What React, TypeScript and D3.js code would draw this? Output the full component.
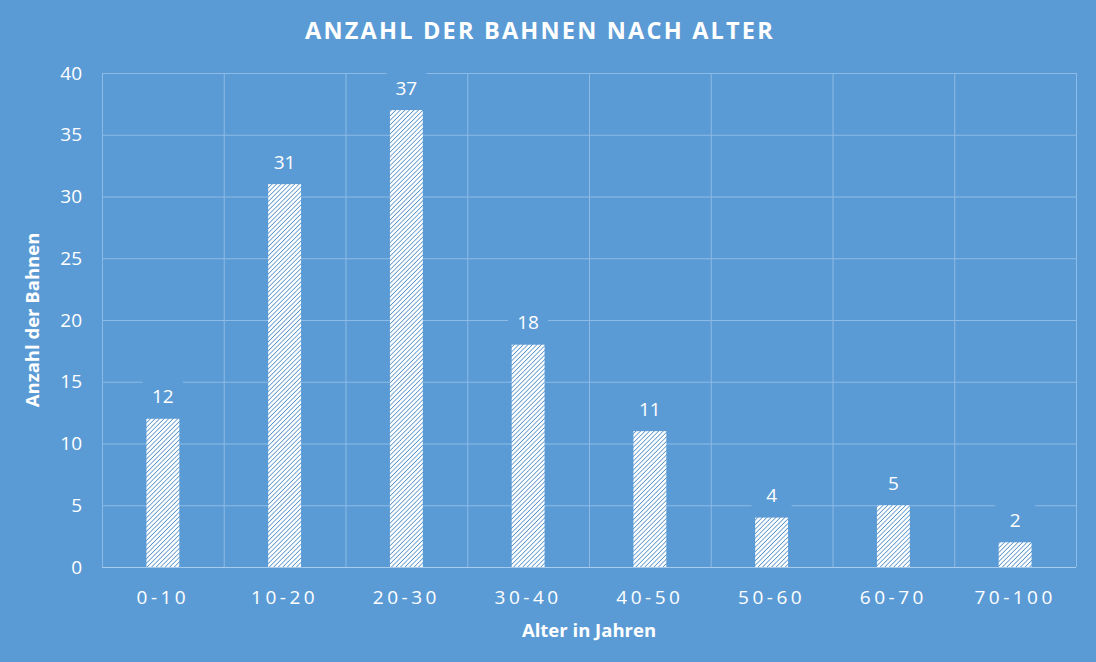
import * as d3 from "d3";

const categories = ["0-10", "10-20", "20-30", "30-40", "40-50", "50-60", "60-70", "70-100"];
const counts = [12, 31, 37, 18, 11, 4, 5, 2];
const yTicks = [0, 5, 10, 15, 20, 25, 30, 35, 40];

const WIDTH = 1096;
const HEIGHT = 662;
const MARGIN = { top: 73, right: 20, bottom: 95, left: 102 };
const BG = "#5B9BD5";
const GRID = "#8DBBE5";
const FONT = "'Open Sans', 'DejaVu Sans', sans-serif";

export default function App() {
  const boundsWidth = WIDTH - MARGIN.left - MARGIN.right;
  const boundsHeight = HEIGHT - MARGIN.top - MARGIN.bottom;

  const xScale = d3.scaleBand().domain(categories).range([0, boundsWidth]).paddingInner(0).paddingOuter(0);
  const yScale = d3.scaleLinear().domain([0, 40]).range([boundsHeight, 0]);
  const barWidth = xScale.bandwidth() * 0.27;

  return (
    <svg width={WIDTH} height={HEIGHT} style={{ position: "absolute", left: 0, top: 0 }}>
      <defs>
        <pattern id="hatch" width={3.2} height={3.2} patternUnits="userSpaceOnUse" patternTransform="rotate(45)">
          <rect width={3.2} height={3.2} fill="white" />
          <line x1={0} y1={0} x2={0} y2={3.2} stroke="#4A8BC8" strokeWidth={1.5} />
        </pattern>
      </defs>
      <rect width={WIDTH} height={HEIGHT} fill={BG} />
      <text
        x={540}
        y={39}
        textAnchor="middle"
        fill="white"
        fontFamily={FONT}
        fontWeight="bold"
        fontSize={23.5}
        letterSpacing={2.2}
      >
        ANZAHL DER BAHNEN NACH ALTER
      </text>
      <g transform={`translate(${MARGIN.left},${MARGIN.top})`}>
        {/* horizontal grid */}
        {yTicks.map((t) => (
          <line
            key={"h" + t}
            x1={0}
            x2={boundsWidth}
            y1={yScale(t) + 0.5}
            y2={yScale(t) + 0.5}
            stroke={t === 0 ? "#A9CBEB" : GRID}
            strokeWidth={1}
          />
        ))}
        {/* vertical grid */}
        {[...categories.map((c) => xScale(c) as number), boundsWidth].map((x, i) => (
          <line key={"v" + i} x1={x + 0.5} x2={x + 0.5} y1={0} y2={boundsHeight} stroke={GRID} strokeWidth={1} />
        ))}
        {/* y tick labels */}
        {yTicks.map((t) => (
          <text
            key={"yt" + t}
            x={-20}
            y={yScale(t)}
            dy="0.35em"
            textAnchor="end"
            fill="white"
            fontFamily={FONT}
            fontSize={19}
          >
            {t}
          </text>
        ))}
        {/* bars */}
        {counts.map((v, i) => {
          const cx = (xScale(categories[i]) as number) + xScale.bandwidth() / 2;
          return (
            <g key={"b" + i}>
              <rect
                x={cx - barWidth / 2}
                y={yScale(v)}
                width={barWidth}
                height={boundsHeight - yScale(v)}
                fill="url(#hatch)"
              />
              <rect x={cx - 20} y={yScale(v) - 40} width={40} height={30} fill={BG} />
              <text
                x={cx}
                y={yScale(v) - 22}
                dy="0.35em"
                textAnchor="middle"
                fill="white"
                fontFamily={FONT}
                fontSize={19}
              >
                {v}
              </text>
            </g>
          );
        })}
        {/* x tick labels */}
        {categories.map((c) => (
          <text
            key={"xt" + c}
            x={(xScale(c) as number) + xScale.bandwidth() / 2}
            y={boundsHeight + 30}
            dy="0.35em"
            textAnchor="middle"
            fill="white"
            fontFamily={FONT}
            fontSize={19}
            letterSpacing={3.5}
          >
            {c}
          </text>
        ))}
        <text
          x={boundsWidth / 2 + 0}
          y={boundsHeight + 64}
          dy="0.35em"
          textAnchor="middle"
          fill="white"
          fontFamily={FONT}
          fontWeight="bold"
          fontSize={18.5}
        >
          Alter in Jahren
        </text>
      </g>
      <text
        transform={`translate(33,${MARGIN.top + boundsHeight / 2}) rotate(-90)`}
        dy="0.35em"
        textAnchor="middle"
        fill="white"
        fontFamily={FONT}
        fontWeight="bold"
        fontSize={18.5}
      >
        Anzahl der Bahnen
      </text>
    </svg>
  );
}
